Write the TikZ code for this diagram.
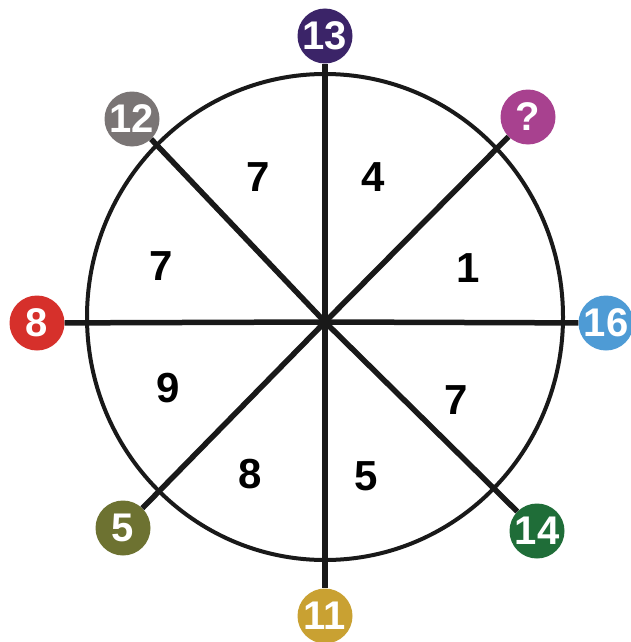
\documentclass[tikz,border=0pt]{standalone}
\usepackage{fontspec}
\setmainfont{Liberation Sans}
\definecolor{cPurple}{HTML}{3B2468}
\definecolor{cGray}{HTML}{7A7575}
\definecolor{cMagenta}{HTML}{A8418F}
\definecolor{cRed}{HTML}{D6302B}
\definecolor{cBlue}{HTML}{4E9BD5}
\definecolor{cOlive}{HTML}{6D7231}
\definecolor{cGreen}{HTML}{1F6D38}
\definecolor{cGold}{HTML}{C9A132}
\begin{document}
\begin{tikzpicture}[x=1pt,y=-1pt,
  ball/.style={circle,fill=#1,minimum size=55pt,inner sep=0pt,text=white,font=\fontsize{40}{40}\selectfont\bfseries},
  num/.style={font=\fontsize{42}{42}\selectfont\bfseries,text=black,inner sep=0pt},
  spoke/.style={line width=5.5pt,black!90}]
\useasboundingbox (0,0) rectangle (630,642);
\fill[white] (0,0) rectangle (630,642);
\coordinate (c) at (325,322);
\node[ball=cPurple] (n13) at (325,36) {13};
\node[ball=cGray] (n12) at (132,119) {12};
\node[ball=cMagenta] (nq) at (528,117) {?};
\node[ball=cRed] (n8) at (37,323) {8};
\node[ball=cBlue] (n16) at (606,323) {16};
\node[ball=cOlive] (n5) at (123,528) {5};
\node[ball=cGreen] (n14) at (537,531) {14};
\node[ball=cGold] (n11) at (325,616) {11};
\draw[line width=4pt,black!90] (325,317) ellipse [x radius=238, y radius=243];
\foreach \n in {n13,n12,nq,n8,n16,n5,n14,n11} \draw[spoke] (c) -- (\n);
\node[num] (s1) at (258,177) {7};
\node[num] (s2) at (373,177) {4};
\node[num] (s3) at (161,266) {7};
\node[num] (s4) at (468,268) {1};
\node[num] (s5) at (168,388) {9};
\node[num] (s6) at (456,400) {7};
\node[num] (s7) at (250,474) {8};
\node[num] (s8) at (366,476) {5};
\end{tikzpicture}
\end{document}
